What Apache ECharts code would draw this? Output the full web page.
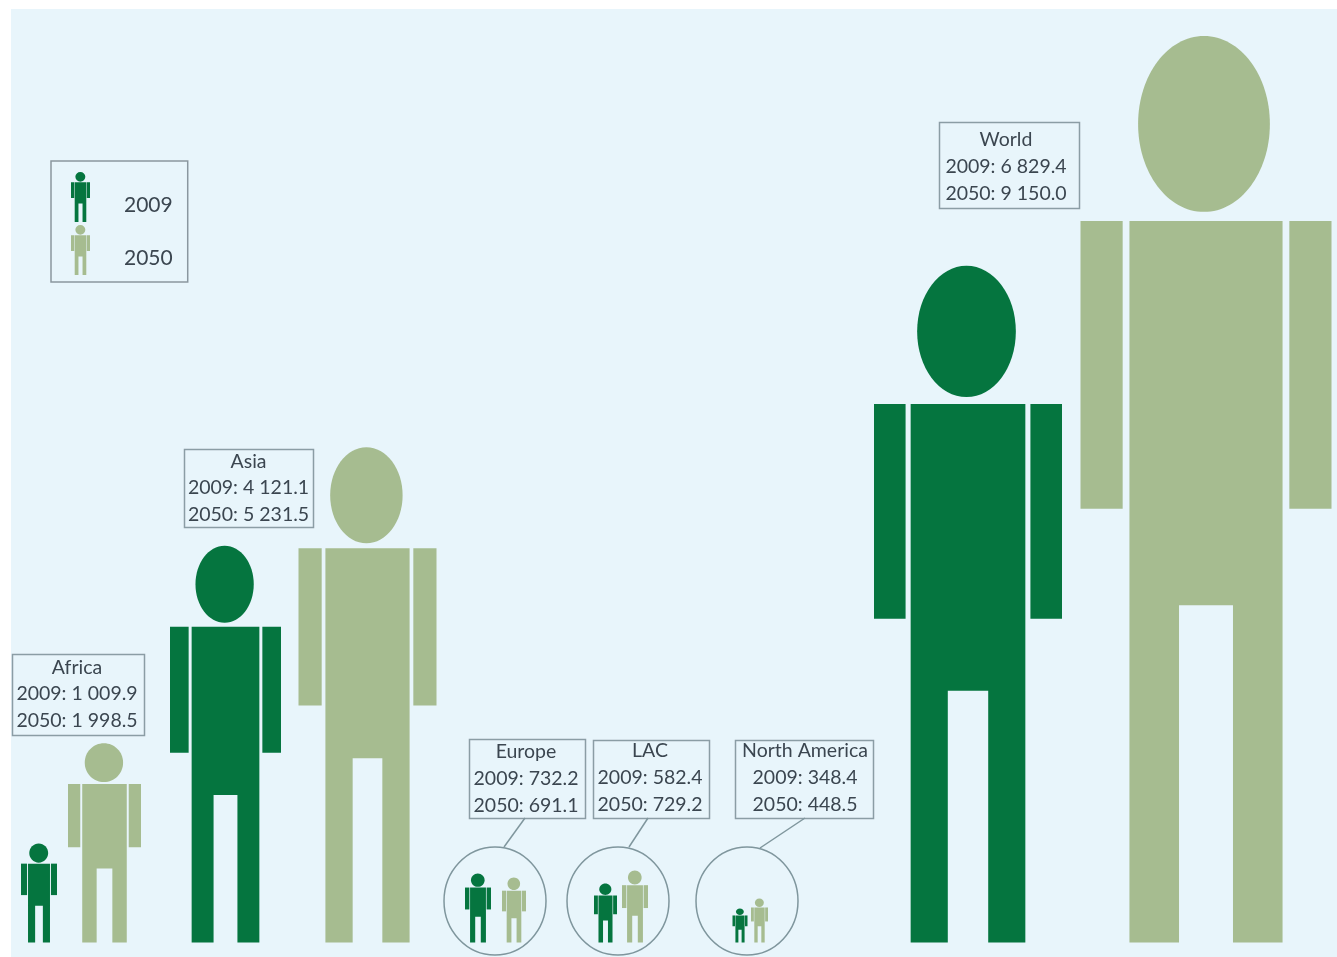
<!DOCTYPE html>
<html>
<head>
<meta charset="utf-8">
<style>html,body{margin:0;padding:0;background:#fff}#chart{width:1337px;height:957px}</style>
<script src="https://cdn.jsdelivr.net/npm/echarts@6/dist/echarts.min.js"></script>
</head>
<body>
<div id="chart"></div>
<script>
// Labelled population values (millions)
const regions = ['Africa', 'Asia', 'Europe', 'LAC', 'North America', 'World'];
const values2009 = [1009.9, 4121.1, 732.2, 582.4, 348.4, 6829.4];
const values2050 = [1998.5, 5231.5, 691.1, 729.2, 448.5, 9150.0];
// Drawn figure heights (y-axis units)
const drawn2009 = [1000, 4005, 697, 596, 343, 6830];
const drawn2050 = [2010, 5000, 657, 727, 444, 9150];
// Figure placement on the x axis
const centre2009 = [39, 225.5, 478, 605.5, 740, 968];
const centre2050 = [104.5, 367.5, 514, 635, 759.5, 1206];
const width2009 = [36, 111, 26, 23, 15, 188];
const width2050 = [73, 138, 24, 26, 17, 251];
const DARK = '#05753f', LIGHT = '#a6bc90';

// Figure proportions
const P = {head: 0.525, headShift: -0.008, headH: 0.194, shoulder: 0.204, arm: 0.168, armEnd: 0.5215, body: 0.61, gap: 0.215, gapTop: 0.628};

function person(cx, t, W, H) {
  const b = t + H, s = t + P.shoulder * H, ae = t + P.armEnd * H, g = t + P.gapTop * H;
  const bw = P.body * W / 2, gw = P.gap * W / 2, rx = P.head * W / 2, ry = P.headH * H / 2;
  return {
    head: {cx: cx + P.headShift * W, cy: t + ry, rx, ry},
    arms: [[cx - W / 2, s, P.arm * W, ae - s], [cx + W / 2 - P.arm * W, s, P.arm * W, ae - s]],
    body: [[cx - bw, s], [cx + bw, s], [cx + bw, b], [cx + gw, b], [cx + gw, g], [cx - gw, g], [cx - gw, b], [cx - bw, b]]
  };
}

function renderFigure(params, api) {
  const x = api.value(0), h = api.value(1), w = api.value(2);
  const base = api.coord([x, 0]), top = api.coord([x, h]);
  const W = api.coord([x + w, 0])[0] - base[0], H = base[1] - top[1];
  const f = person(base[0], top[1], W, H);
  const style = {fill: api.visual('color')};
  return {
    type: 'group',
    children: [
      {type: 'ellipse', shape: f.head, style},
      {type: 'rect', shape: {x: f.arms[0][0], y: f.arms[0][1], width: f.arms[0][2], height: f.arms[0][3]}, style},
      {type: 'rect', shape: {x: f.arms[1][0], y: f.arms[1][1], width: f.arms[1][2], height: f.arms[1][3]}, style},
      {type: 'polygon', shape: {points: f.body}, style}
    ]
  };
}

// Legend icon built from the same proportions
function iconPath() {
  const f = person(19, 0, 38, 100), h = f.head;
  const rect = r => `M${r[0]} ${r[1]}h${r[2]}v${r[3]}h${-r[2]}Z`;
  return 'path://' +
    `M${h.cx - h.rx} ${h.cy}A${h.rx} ${h.ry} 0 1 1 ${h.cx + h.rx} ${h.cy}A${h.rx} ${h.ry} 0 1 1 ${h.cx - h.rx} ${h.cy}Z` +
    rect(f.arms[0]) + rect(f.arms[1]) +
    'M' + f.body.map(p => p.join(' ')).join('L') + 'Z';
}

const fmt = v => v.toFixed(1).replace(/\B(?=(\d{3})+(?!\d))/g, ' ');

// Annotation layout (pixels): callout box [x, y, w, h]
const boxes = [[12, 654, 132, 81], [184, 449, 129, 78], [469, 739, 116, 79], [593, 740, 116, 78], [735, 740, 138, 78], [939, 122, 140, 86]];
const lineYs = [[668, 694, 721], [462, 488, 515], [752, 779, 806], [751, 778, 805], [751, 778, 805], [140, 167, 194]];
const textX = [77, 248.5, 526, 650, 805, 1006];
const circles = [[495, 901, 51, 54], [618, 901, 51, 54], [747, 901, 51, 54]];
const leaders = [[525, 818, 504, 847], [648, 818, 629, 847], [805, 818, 760, 848]];
const BORDER = '#8b9da5', TEXT = '#3b4650';

const graphics = [{
  type: 'rect', z: -1, silent: true,
  shape: {x: 11, y: 9, width: 1326, height: 948},
  style: {fill: '#e8f5fb'}
}];
regions.forEach((name, i) => {
  const [x, y, w, h] = boxes[i];
  graphics.push({type: 'rect', shape: {x: x + .5, y: y + .5, width: w, height: h}, style: {fill: 'none', stroke: BORDER, lineWidth: 1.5}});
  [name, '2009: ' + fmt(values2009[i]), '2050: ' + fmt(values2050[i])].forEach((line, k) => {
    graphics.push({type: 'text', x: textX[i], y: lineYs[i][k], style: {
      text: line, fill: TEXT, font: '19.5px Lato', align: 'center', verticalAlign: 'middle'}});
  });
});
circles.forEach(c => graphics.push({type: 'ellipse', shape: {cx: c[0], cy: c[1], rx: c[2], ry: c[3]}, style: {fill: 'none', stroke: '#7f969d', lineWidth: 1.5}}));
leaders.forEach(l => graphics.push({type: 'line', shape: {x1: l[0], y1: l[1], x2: l[2], y2: l[3]}, style: {stroke: '#7f969d', lineWidth: 1.5}}));

const rows = (c, d, w) => c.map((x, i) => [x, d[i], w[i]]);

const chart = echarts.init(document.getElementById('chart'), null, {renderer: 'canvas'});
chart.setOption({
  animation: false,
  backgroundColor: '#ffffff',
  grid: {left: 0, right: 0, top: 36, bottom: 14.5},
  xAxis: {type: 'value', min: 0, max: 1337, show: false},
  yAxis: {type: 'value', min: 0, max: 9150, show: false},
  legend: {
    left: 51, top: 161, orient: 'vertical',
    data: ['2009', '2050'],
    icon: iconPath(),
    itemWidth: 19, itemHeight: 50, itemGap: 3,
    padding: [11, 15, 7, 20],
    borderColor: '#8a979f', borderWidth: 1.5,
    selectedMode: false,
    formatter: '{a|{name}}',
    textStyle: {rich: {a: {fontFamily: 'Lato', fontSize: 21, color: TEXT, padding: [16, 0, 0, 29]}}}
  },
  graphic: {elements: graphics},
  series: [
    {name: '2009', type: 'custom', clip: false, itemStyle: {color: DARK}, renderItem: renderFigure,
      encode: {x: 0, y: 1}, data: rows(centre2009, drawn2009, width2009)},
    {name: '2050', type: 'custom', clip: false, itemStyle: {color: LIGHT}, renderItem: renderFigure,
      encode: {x: 0, y: 1}, data: rows(centre2050, drawn2050, width2050)}
  ]
});
</script>
</body>
</html>
